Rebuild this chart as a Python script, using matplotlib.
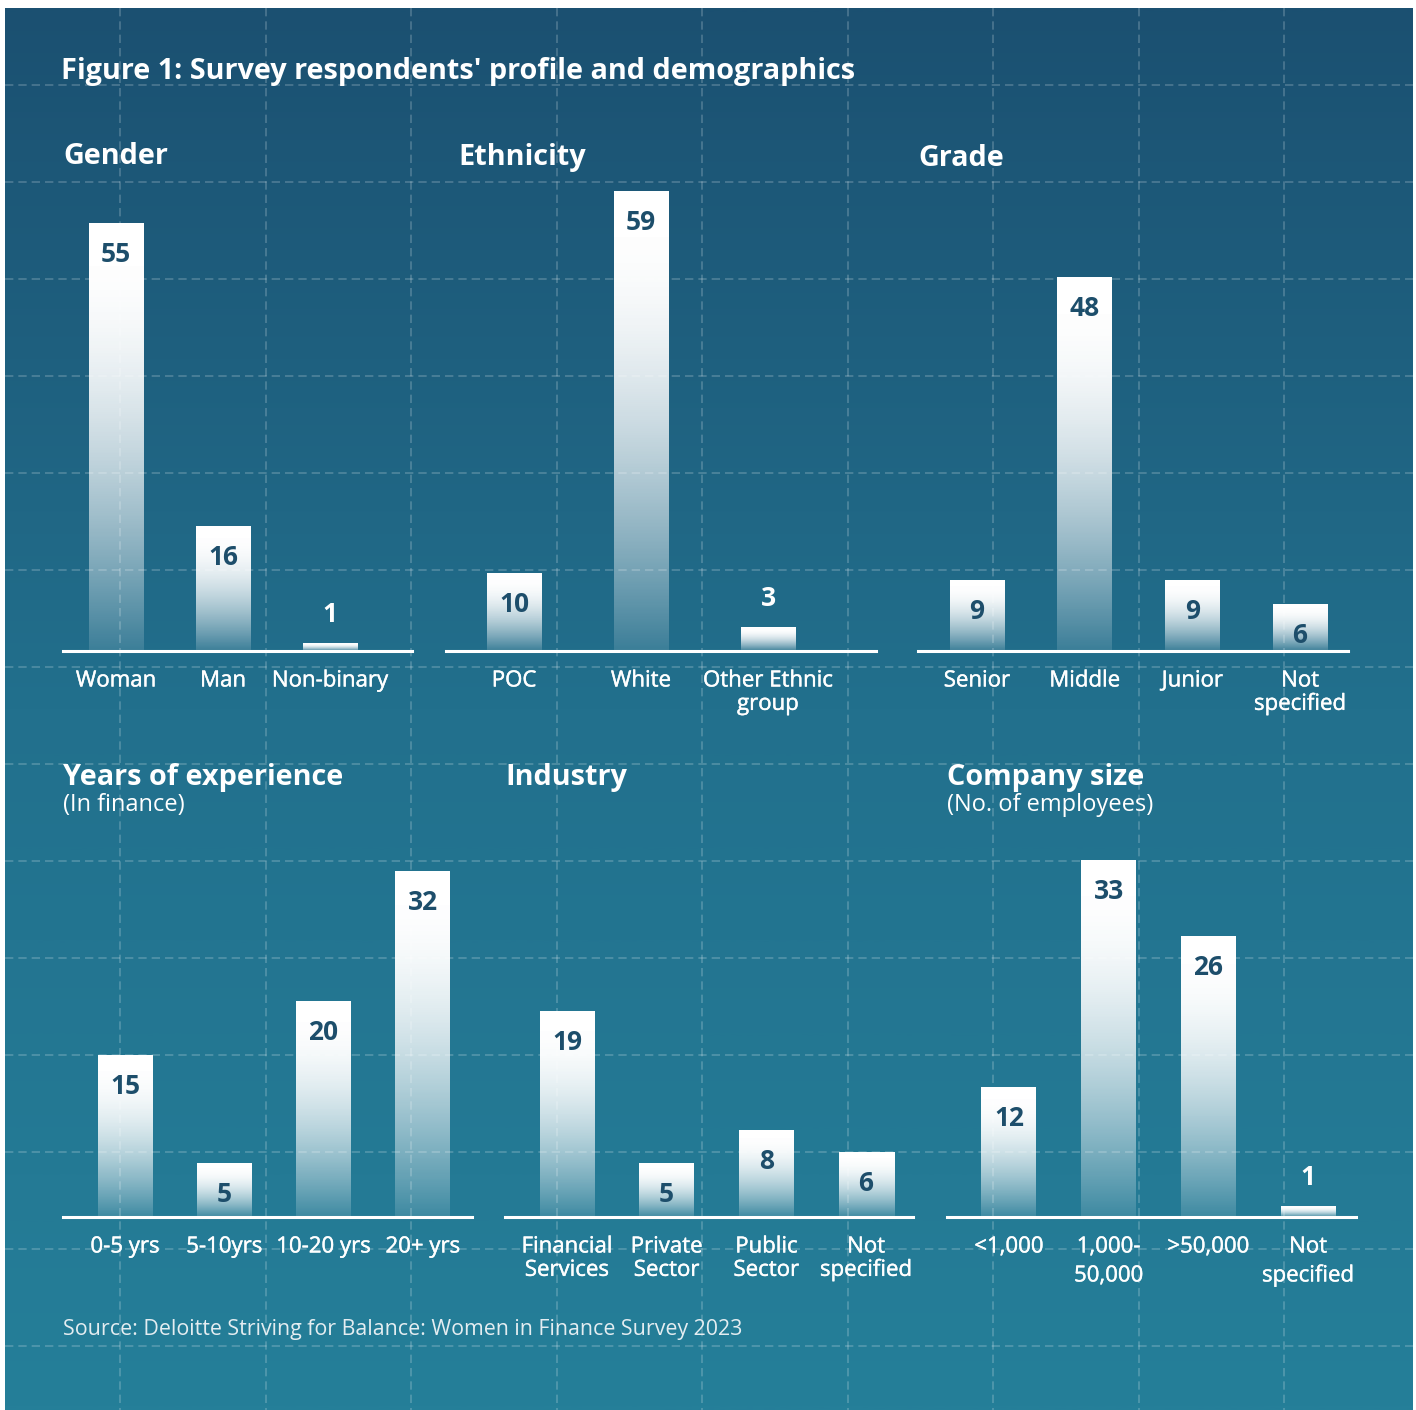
import numpy as np
import matplotlib.pyplot as plt
import matplotlib.patheffects as pe
from matplotlib.colors import LinearSegmentedColormap

W, H = 1416, 1410
FONT = ['Open Sans', 'DejaVu Sans']
plt.rcParams['font.family'] = FONT

gender_labels = ['Woman', 'Man', 'Non-binary']
gender_values = [55, 16, 1]
ethnicity_labels = ['POC', 'White', 'Other Ethnic\ngroup']
ethnicity_values = [10, 59, 3]
grade_labels = ['Senior', 'Middle', 'Junior', 'Not\nspecified']
grade_values = [9, 48, 9, 6]
years_labels = ['0-5 yrs', '5-10yrs', '10-20 yrs', '20+ yrs']
years_values = [15, 5, 20, 32]
industry_labels = ['Financial\nServices', 'Private\nSector', 'Public\nSector', 'Not\nspecified']
industry_values = [19, 5, 8, 6]
company_labels = ['<1,000', '1,000-\n50,000', '>50,000', 'Not\nspecified']
company_values = [12, 33, 26, 1]

main_title = "Figure 1: Survey respondents' profile and demographics"
source_text = 'Source: Deloitte Striving for Balance: Women in Finance Survey 2023'

# layout in pixels: line x0, line x1, baseline y, first bar centre, spacing, px per unit,
# title xy, title, subtitle, label line spacing
panels = [
    dict(labels=gender_labels, values=gender_values, x0=63, x1=412, base=651, c0=116, s=107,
         ppu=7.78, ymax=62, tx=63, ty=157, title='Gender', sub=None, ls=1.15),
    dict(labels=ethnicity_labels, values=ethnicity_values, x0=446, x1=876, base=651, c0=514, s=127,
         ppu=7.78, ymax=62, tx=458, ty=158, title='Ethnicity', sub=None, ls=1.15),
    dict(labels=grade_labels, values=grade_values, x0=918, x1=1348, base=651, c0=977, s=107.7,
         ppu=7.78, ymax=62, tx=918, ty=158, title='Grade', sub=None, ls=1.15),
    dict(labels=years_labels, values=years_values, x0=63, x1=472, base=1217, c0=125, s=99.3,
         ppu=10.8, ymax=34, tx=63, ty=777, title='Years of experience', sub='(In finance)', ls=1.15),
    dict(labels=industry_labels, values=industry_values, x0=505, x1=913, base=1217, c0=567, s=99.7,
         ppu=10.8, ymax=34, tx=505, ty=777, title='Industry', sub=None, ls=1.15),
    dict(labels=company_labels, values=company_values, x0=947, x1=1356, base=1217, c0=1009, s=99.7,
         ppu=10.8, ymax=34, tx=947, ty=777, title='Company size', sub='(No. of employees)', ls=1.5),
]

fig = plt.figure(figsize=(W / 100, H / 100), dpi=100)
fig.patch.set_facecolor('white')

# background
bg = fig.add_axes([0, 0, 1, 1])
bg.axis('off')
cmap = LinearSegmentedColormap.from_list('bg', [(0, '#1b5071'), (0.5, '#22708d'), (1, '#257f99')])
grad = np.linspace(0, 1, 512)[:, None]
bg.imshow(grad, cmap=cmap, extent=[5, 1413, 1410, 8], aspect='auto', zorder=0)
for gx in np.arange(120, 1413, 145.5):
    ln, = bg.plot([gx, gx], [8, 1410], color='white', alpha=0.22, lw=1.2, zorder=1)
    ln.set_dashes((5, 3))
for gy in np.arange(85, 1410, 97):
    ln, = bg.plot([5, 1413], [gy, gy], color='white', alpha=0.22, lw=1.2, zorder=1)
    ln.set_dashes((5, 3))
bg.set_xlim(0, W)
bg.set_ylim(H, 0)

bg.text(61, 72, main_title, color='white', fontsize=20.8, fontweight='bold', va='center', ha='left')
bg.text(63, 1330, source_text, color='#e4edf1', fontsize=15.4, va='center', ha='left')

t = np.linspace(1, 0, 256)
u = np.clip(t / 0.9, 0, 1)
alpha = 0.12 + 0.88 * (1 - (1 - u) ** 1.7)
bar_img = np.ones((256, 1, 4))
bar_img[:, 0, 3] = alpha

thicken = [pe.withStroke(linewidth=0.3, foreground='white')]

for p in panels:
    n = len(p['values'])
    hpx = p['ymax'] * p['ppu']
    ax = fig.add_axes([p['x0'] / W, 1 - p['base'] / H, (p['x1'] - p['x0']) / W, hpx / H])
    ax.patch.set_alpha(0)
    w = 55 / p['s']
    xs = np.arange(n)
    for x, v in zip(xs, p['values']):
        ax.imshow(bar_img, extent=[x - w / 2, x + w / 2, 0, v], aspect='auto', zorder=2,
                  interpolation='bilinear')
        if v * p['ppu'] > 45:
            ax.annotate(str(v), (x, v), xytext=(0, -31), textcoords='offset pixels',
                        ha='center', va='center', color='#1d4e6b', fontsize=19, fontweight='bold')
        else:
            ax.annotate(str(v), (x, v), xytext=(0, 29), textcoords='offset pixels',
                        ha='center', va='center', color='white', fontsize=19, fontweight='bold')
    ax.set_xlim((p['x0'] - p['c0']) / p['s'], (p['x1'] - p['c0']) / p['s'])
    ax.set_ylim(0, p['ymax'])
    for side in ['top', 'left', 'right']:
        ax.spines[side].set_visible(False)
    ax.spines['bottom'].set_color('white')
    ax.spines['bottom'].set_linewidth(2.2)
    ax.set_yticks([])
    ax.set_xticks(xs)
    ax.set_xticklabels(p['labels'], color='white', fontsize=16, linespacing=p['ls'])
    for lab in ax.get_xticklabels():
        lab.set_path_effects(thicken)
    ax.tick_params(axis='x', length=0, pad=14)
    bg.text(p['tx'], p['ty'], p['title'], color='white', fontsize=20.8, fontweight='bold',
            va='center', ha='left')
    if p['sub']:
        bg.text(p['tx'], p['ty'] + 28, p['sub'], color='white', fontsize=17, va='center', ha='left')

fig.savefig('out.png', dpi=100, facecolor='white')
